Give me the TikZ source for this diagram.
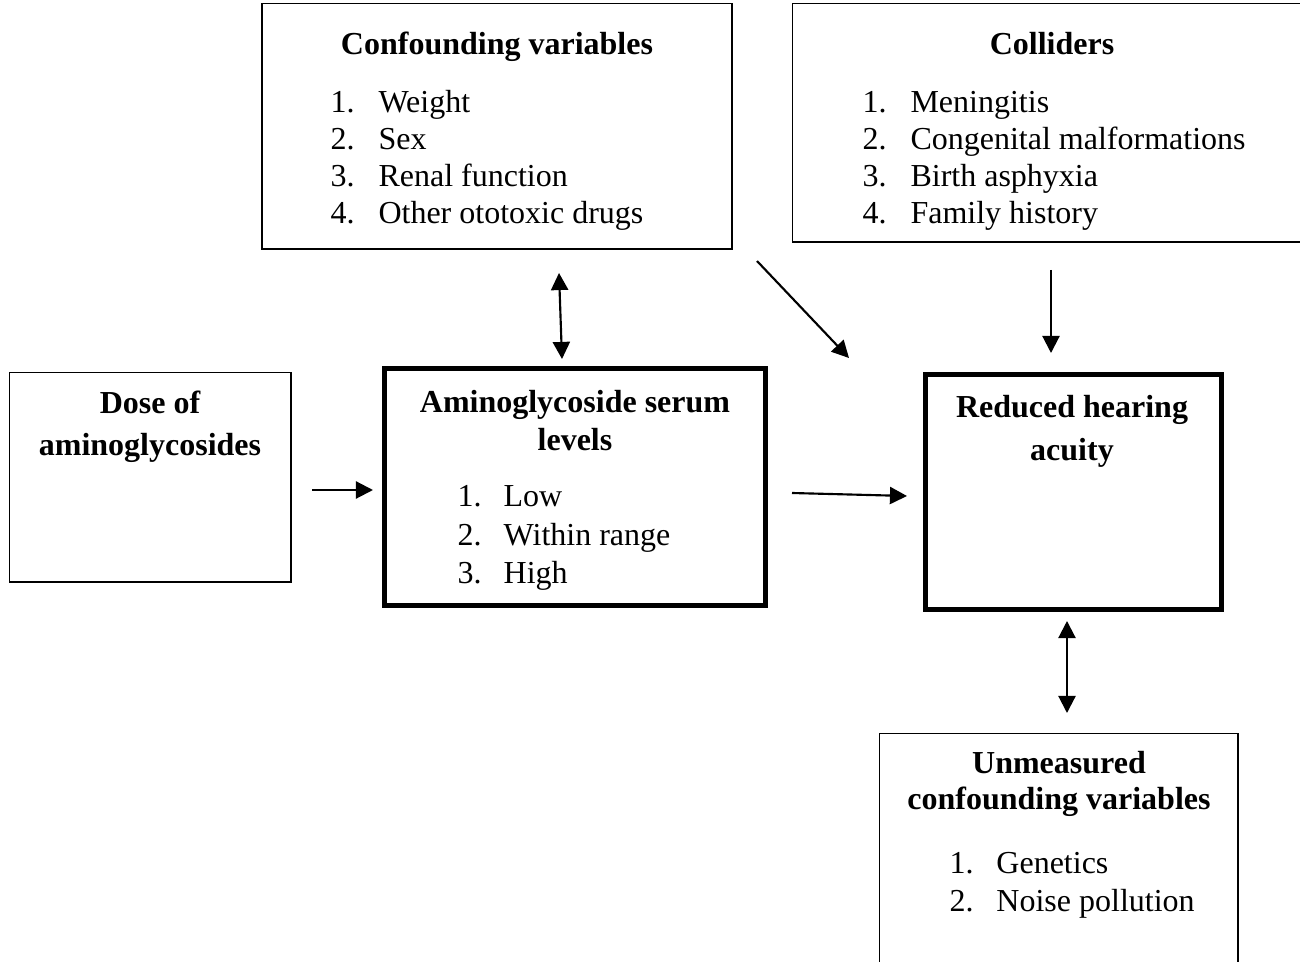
\documentclass[tikz,border=0pt]{standalone}
\usepackage{fontspec}
\setmainfont{Liberation Serif}
\usetikzlibrary{arrows.meta,fit}

\newcommand{\twelve}{\fontsize{12}{13.8}\selectfont}
\tikzset{
  thinbox/.style={draw, line width=0.6pt, inner sep=0pt, outer sep=0pt},
  thickbox/.style={draw, line width=1.9pt, inner sep=0pt, outer sep=0pt},
  head/.style={font=\twelve\bfseries, anchor=base, inner sep=0pt},
  items/.style={font=\twelve, anchor=base west, inner sep=0pt},
  link/.style={line width=0.8pt, -{Triangle[length=6.4pt,width=6.4pt]}},
  twoway/.style={line width=0.8pt, {Triangle[length=6.4pt,width=6.4pt]}-{Triangle[length=6.4pt,width=6.4pt]}}
}

\begin{document}
\begin{tikzpicture}[x=0.375pt,y=-0.375pt]
    \useasboundingbox (0,0) rectangle (1300,962);
    % boxes
    \node[thinbox, fit={(262,3.5) (732,249)}] (conf) {};
    \node[thinbox, fit={(792.5,3.5) (1310,242)}] (coll) {};
    \node[thinbox, fit={(9.5,372.5) (291,582)}] (dose) {};
    \node[thickbox, fit={(384.5,368.5) (765.5,605.5)}] (serum) {};
    \node[thickbox, fit={(925.5,374.5) (1221.5,609.5)}] (hear) {};
    \node[thinbox, fit={(879.5,733.5) (1238,990)}] (unmeas) {};
    % texts
    \node[head] (confhead) at (497,55) {Confounding variables};
    \node[items] (conflist) at (330,113) {\begin{tabular}[t]{@{}p{18pt}@{}l@{}}
      1. & Weight\\ 2. & Sex\\ 3. & Renal function\\ 4. & Other ototoxic drugs
    \end{tabular}};
    \node[head] (collhead) at (1052,55) {Colliders};
    \node[items] (colllist) at (862,113) {\begin{tabular}[t]{@{}p{18pt}@{}l@{}}
      1. & Meningitis\\ 2. & Congenital malformations\\ 3. & Birth asphyxia\\ 4. & Family history
    \end{tabular}};
    \node[head] (dosehead) at (150,414) {\begin{tabular}[t]{@{}c@{}}
      Dose of\\[1.95pt] aminoglycosides
    \end{tabular}};
    \node[head] (serumhead) at (575,412.5) {\begin{tabular}[t]{@{}c@{}}
      Aminoglycoside serum\\[0.45pt] levels
    \end{tabular}};
    \node[items] (serumlist) at (457,507) {\begin{tabular}[t]{@{}p{17.3pt}@{}l@{}}
      1. & Low\\[0.6pt] 2. & Within range\\[0.6pt] 3. & High
    \end{tabular}};
    \node[head] (hearhead) at (1072,418) {\begin{tabular}[t]{@{}c@{}}
      Reduced hearing\\[2pt] acuity
    \end{tabular}};
    \node[head] (unmeashead) at (1059,773) {\begin{tabular}[t]{@{}c@{}}
      Unmeasured\\ confounding variables
    \end{tabular}};
    \node[items] (unmeaslist) at (949,873) {\begin{tabular}[t]{@{}p{17.6pt}@{}l@{}}
      1. & Genetics\\[0.45pt] 2. & Noise pollution
    \end{tabular}};
    % arrow ends
    \coordinate (c1) at (559,273);
    \coordinate (c2) at (562,359);
    \coordinate (d1) at (757,261);
    \coordinate (d2) at (849,358);
    \coordinate (k1) at (1051,270);
    \coordinate (k2) at (1051,353);
    \coordinate (e1) at (312,490);
    \coordinate (e2) at (373,490);
    \coordinate (f1) at (792,493);
    \coordinate (f2) at (907,496);
    \coordinate (g1) at (1067,621);
    \coordinate (g2) at (1067,713);
    % arrows
    \draw[twoway] (c1) -- (c2);
    \draw[link] (d1) -- (d2);
    \draw[link] (k1) -- (k2);
    \draw[link] (e1) -- (e2);
    \draw[link] (f1) -- (f2);
    \draw[twoway] (g1) -- (g2);
\end{tikzpicture}
\end{document}
